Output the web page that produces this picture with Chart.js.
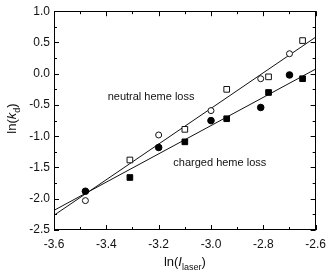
<!DOCTYPE html>
<html>
<head>
<meta charset="utf-8">
<script src="https://cdn.jsdelivr.net/npm/chart.js@4/dist/chart.umd.min.js"></script>
<style>
  html, body { margin: 0; padding: 0; background: #fff; }
  #wrap { width: 333px; height: 274px; position: relative; }
</style>
</head>
<body>
<div id="wrap"><canvas id="c" width="333" height="274"></canvas></div>
<script>
// ---- data ----
const circleX = [-3.48, -3.20, -3.00, -2.81, -2.70];
const squareX = [-3.31, -3.10, -2.94, -2.78, -2.65];
const neutralCircleY = [-2.03, -0.98, -0.59, -0.08, 0.32];
const neutralSquareY = [-1.38, -0.89, -0.25, -0.05, 0.53];
const chargedCircleY = [-1.88, -1.18, -0.75, -0.54, -0.02];
const chargedSquareY = [-1.66, -1.09, -0.72, -0.30, -0.08];
const fitX = [-3.6, -2.6];
const neutralFitY = [-2.265, 0.585];
const chargedFitY = [-2.186, 0.074];
const xTicks = [-3.6, -3.4, -3.2, -3.0, -2.8, -2.6];
const yTicks = [1.0, 0.5, 0.0, -0.5, -1.0, -1.5, -2.0, -2.5];
const labels = ["neutral heme loss", "charged heme loss"];

const pts = (xs, ys) => xs.map((x, i) => ({ x: x, y: ys[i] }));

const FONT = "'Liberation Sans', Arial, sans-serif";

const decor = {
  id: 'decor',
  afterDraw(chart) {
    const { ctx, chartArea: a, scales: { x, y } } = chart;
    ctx.save();
    ctx.strokeStyle = '#000';
    ctx.lineWidth = 1;
    // frame
    ctx.strokeRect(Math.round(a.left) + 0.5, Math.round(a.top) + 0.5,
                   Math.round(a.right - a.left) - 1, Math.round(a.bottom - a.top) - 1);
    // inward ticks
    ctx.beginPath();
    for (let v = -3.6; v <= -2.6 + 1e-9; v += 0.1) {
      const px = Math.round(x.getPixelForValue(v)) + 0.5;
      const major = Math.abs(Math.round(v * 10) % 2) === 0;
      const L = major ? 5 : 3;
      ctx.moveTo(px, a.bottom); ctx.lineTo(px, a.bottom - L);
      ctx.moveTo(px, a.top); ctx.lineTo(px, a.top + L);
    }
    for (let v = -2.5; v <= 1.0 + 1e-9; v += 0.25) {
      const py = Math.round(y.getPixelForValue(v)) + 0.5;
      const major = Math.abs(Math.round(v * 4) % 2) === 0;
      const L = major ? 5 : 3;
      ctx.moveTo(a.left, py); ctx.lineTo(a.left + L, py);
      ctx.moveTo(a.right, py); ctx.lineTo(a.right - L, py);
    }
    ctx.stroke();

    ctx.fillStyle = '#111';
    // annotations
    ctx.font = '11px ' + FONT;
    ctx.textBaseline = 'middle';
    ctx.textAlign = 'left';
    ctx.fillText(labels[0], x.getPixelForValue(-3.395), y.getPixelForValue(-0.37));
    ctx.fillText(labels[1], x.getPixelForValue(-3.144), y.getPixelForValue(-1.43));

    // x axis title: ln(I_laser)
    const parts = [
      { t: 'ln(', f: '13px ' + FONT, dy: 0 },
      { t: 'I', f: 'italic 13px ' + FONT, dy: 0 },
      { t: 'laser', f: '9px ' + FONT, dy: 4 },
      { t: ')', f: '13px ' + FONT, dy: 0 }
    ];
    let w = 0;
    parts.forEach(p => { ctx.font = p.f; p.w = ctx.measureText(p.t).width; w += p.w; });
    let cx = (a.left + a.right) / 2 - w / 2;
    ctx.textBaseline = 'alphabetic';
    parts.forEach(p => { ctx.font = p.f; ctx.fillText(p.t, cx, 266 + p.dy); cx += p.w; });

    // y axis title: ln(k_d)
    const yparts = [
      { t: 'ln(', f: '13px ' + FONT, dy: 0 },
      { t: 'k', f: 'italic 13px ' + FONT, dy: 0 },
      { t: 'd', f: '9px ' + FONT, dy: 4 },
      { t: ')', f: '13px ' + FONT, dy: 0 }
    ];
    w = 0;
    yparts.forEach(p => { ctx.font = p.f; p.w = ctx.measureText(p.t).width; w += p.w; });
    ctx.translate(16, (a.top + a.bottom) / 2 - 2);
    ctx.rotate(-Math.PI / 2);
    cx = -w / 2;
    yparts.forEach(p => { ctx.font = p.f; ctx.fillText(p.t, cx, p.dy); cx += p.w; });
    ctx.restore();
  }
};

new Chart(document.getElementById('c'), {
  type: 'scatter',
  data: {
    datasets: [
      { data: pts(fitX, neutralFitY), showLine: true, borderColor: '#111', borderWidth: 1, pointRadius: 0, order: 5 },
      { data: pts(fitX, chargedFitY), showLine: true, borderColor: '#111', borderWidth: 1, pointRadius: 0, order: 5 },
      { data: pts(circleX, neutralCircleY), pointStyle: 'circle', pointRadius: 3, borderColor: '#111', borderWidth: 1, backgroundColor: '#fff', order: 1 },
      { data: pts(squareX, neutralSquareY), pointStyle: 'rect', pointRadius: 4, borderColor: '#111', borderWidth: 1, backgroundColor: '#fff', order: 1 },
      { data: pts(circleX, chargedCircleY), pointStyle: 'circle', pointRadius: 3.3, borderColor: '#000', borderWidth: 1, backgroundColor: '#000', order: 1 },
      { data: pts(squareX, chargedSquareY), pointStyle: 'rect', pointRadius: 4, borderColor: '#000', borderWidth: 1, backgroundColor: '#000', order: 1 }
    ]
  },
  options: {
    responsive: false,
    animation: false,
    layout: { padding: { top: 8, right: 16, left: 0, bottom: 0 } },
    plugins: { legend: { display: false }, tooltip: { enabled: false } },
    scales: {
      x: {
        type: 'linear', min: -3.6, max: -2.6,
        afterBuildTicks: s => { s.ticks = xTicks.map(v => ({ value: v })); },
        afterFit: s => { s.height = 44; },
        grid: { display: false, drawTicks: false },
        border: { display: false },
        ticks: { color: '#111', font: { size: 12, family: FONT }, padding: 7, maxRotation: 0, callback: v => v.toFixed(1) }
      },
      y: {
        type: 'linear', min: -2.5, max: 1.0,
        afterBuildTicks: s => { s.ticks = yTicks.map(v => ({ value: v })); },
        afterFit: s => { s.width = 54; },
        grid: { display: false, drawTicks: false },
        border: { display: false },
        ticks: { color: '#111', font: { size: 12, family: FONT }, padding: 4, callback: v => v.toFixed(1) }
      }
    }
  },
  plugins: [decor]
});
</script>
</body>
</html>
